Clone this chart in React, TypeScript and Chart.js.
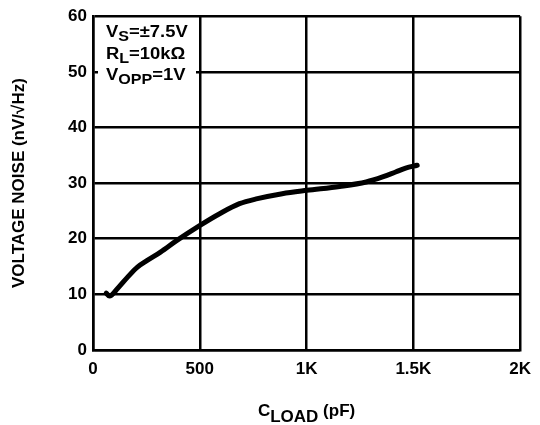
import React, { useEffect, useRef } from "react";
import { Chart, registerables } from "chart.js";

Chart.register(...registerables);

const capLoad: number[] = [62, 77, 116, 162, 208, 254, 316, 393, 501, 593, 686, 770, 886, 1001, 1155, 1279, 1356, 1417, 1464, 1518];
const voltageNoise: number[] = [10.2, 9.7, 11.1, 13.1, 14.9, 16.1, 17.6, 19.7, 22.4, 24.5, 26.3, 27.2, 28.1, 28.7, 29.4, 30.2, 31.1, 32.0, 32.7, 33.2];
const xTickValues: number[] = [0, 500, 1000, 1500, 2000];
const xTickLabels: string[] = ["0", "500", "1K", "1.5K", "2K"];
const yTickValues: number[] = [0, 10, 20, 30, 40, 50, 60];

type Seg = { t: string; sub?: boolean };
const annotationLines: Seg[][] = [
  [{ t: "V" }, { t: "S", sub: true }, { t: "=±7.5V" }],
  [{ t: "R" }, { t: "L", sub: true }, { t: "=10kΩ" }],
  [{ t: "V" }, { t: "OPP", sub: true }, { t: "=1V" }],
];
const xTitle: Seg[] = [{ t: "C" }, { t: "LOAD", sub: true }, { t: " (pF)" }];
const yTitle = "VOLTAGE NOISE (nV/√Hz)";

const FONT = "Arial, 'Liberation Sans', Helvetica, sans-serif";

function drawSegs(
  ctx: CanvasRenderingContext2D,
  segs: Seg[],
  x: number,
  y: number,
  size: number,
  subSize: number,
  subDrop: number,
  stretch: number,
  align: "left" | "center"
) {
  ctx.save();
  ctx.textBaseline = "alphabetic";
  ctx.textAlign = "left";
  let total = 0;
  const widths = segs.map((s) => {
    ctx.font = `bold ${s.sub ? subSize : size}px ${FONT}`;
    const w = ctx.measureText(s.t).width;
    total += w;
    return w;
  });
  ctx.translate(x, y);
  ctx.scale(stretch, 1);
  let cx = align === "center" ? -total / 2 : 0;
  segs.forEach((s, i) => {
    ctx.font = `bold ${s.sub ? subSize : size}px ${FONT}`;
    ctx.fillText(s.t, cx, s.sub ? subDrop : 0);
    cx += widths[i];
  });
  ctx.restore();
}

const textPlugin = {
  id: "customText",
  afterDraw(chart: any) {
    const ctx: CanvasRenderingContext2D = chart.ctx;
    const area = chart.chartArea;
    ctx.save();
    // annotation box
    ctx.fillStyle = "#ffffff";
    ctx.fillRect(area.left + 5, area.top + 3, 98, 80);
    ctx.fillStyle = "#000000";
    const baselines = [37, 59, 80];
    annotationLines.forEach((line, i) => {
      drawSegs(ctx, line, area.left + 13, baselines[i], 16, 14, 4, 1.15, "left");
    });
    // x title
    drawSegs(ctx, xTitle, (area.left + area.right) / 2, 416, 17, 17, 6, 1.0, "center");
    // y title
    ctx.save();
    ctx.translate(24, (area.top + area.bottom) / 2);
    ctx.rotate(-Math.PI / 2);
    ctx.font = `bold 17px ${FONT}`;
    ctx.textAlign = "center";
    ctx.textBaseline = "alphabetic";
    ctx.fillText(yTitle, 0, 0);
    ctx.restore();
    ctx.restore();
  },
};

export default function App() {
  const canvasRef = useRef<HTMLCanvasElement | null>(null);

  useEffect(() => {
    if (!canvasRef.current) return;
    const chart = new Chart(canvasRef.current, {
      type: "line",
      data: {
        datasets: [
          {
            data: capLoad.map((c, i) => ({ x: c, y: voltageNoise[i] })),
            borderColor: "#000000",
            borderWidth: 5,
            pointRadius: 0,
            cubicInterpolationMode: "monotone",
            borderCapStyle: "round",
            borderJoinStyle: "round",
            fill: false,
          },
        ],
      },
      options: {
        responsive: false,
        animation: false,
        devicePixelRatio: 1,
        layout: { padding: { top: 15, right: 14, left: 0, bottom: 0 } },
        plugins: { legend: { display: false }, tooltip: { enabled: false } },
        scales: {
          x: {
            type: "linear",
            min: 0,
            max: 2000,
            afterBuildTicks: (scale: any) => {
              scale.ticks = xTickValues.map((v) => ({ value: v }));
            },
            afterFit: (scale: any) => {
              scale.height = 75;
            },
            ticks: {
              color: "#000000",
              padding: 9,
              font: { family: FONT, size: 17, weight: "bold" },
              maxRotation: 0,
              callback: (v: any) => {
                const idx = xTickValues.indexOf(Number(v));
                return idx >= 0 ? xTickLabels[idx] : "";
              },
            },
            grid: { color: "#000000", lineWidth: 2.5, drawTicks: false },
            border: { color: "#000000", width: 2.5 },
          },
          y: {
            type: "linear",
            min: 0,
            max: 60,
            afterBuildTicks: (scale: any) => {
              scale.ticks = yTickValues.map((v) => ({ value: v }));
            },
            afterFit: (scale: any) => {
              scale.width = 93;
            },
            ticks: {
              color: "#000000",
              padding: 6,
              font: { family: FONT, size: 17, weight: "bold" },
            },
            grid: { color: "#000000", lineWidth: 2.5, drawTicks: false },
            border: { color: "#000000", width: 2.5 },
          },
        },
      },
      plugins: [textPlugin],
    } as any);
    return () => chart.destroy();
  }, []);

  return (
    <div style={{ position: "absolute", left: 0, top: 0, width: 540, height: 425, background: "#ffffff" }}>
      <canvas ref={canvasRef} width={540} height={425} style={{ display: "block" }} />
    </div>
  );
}
